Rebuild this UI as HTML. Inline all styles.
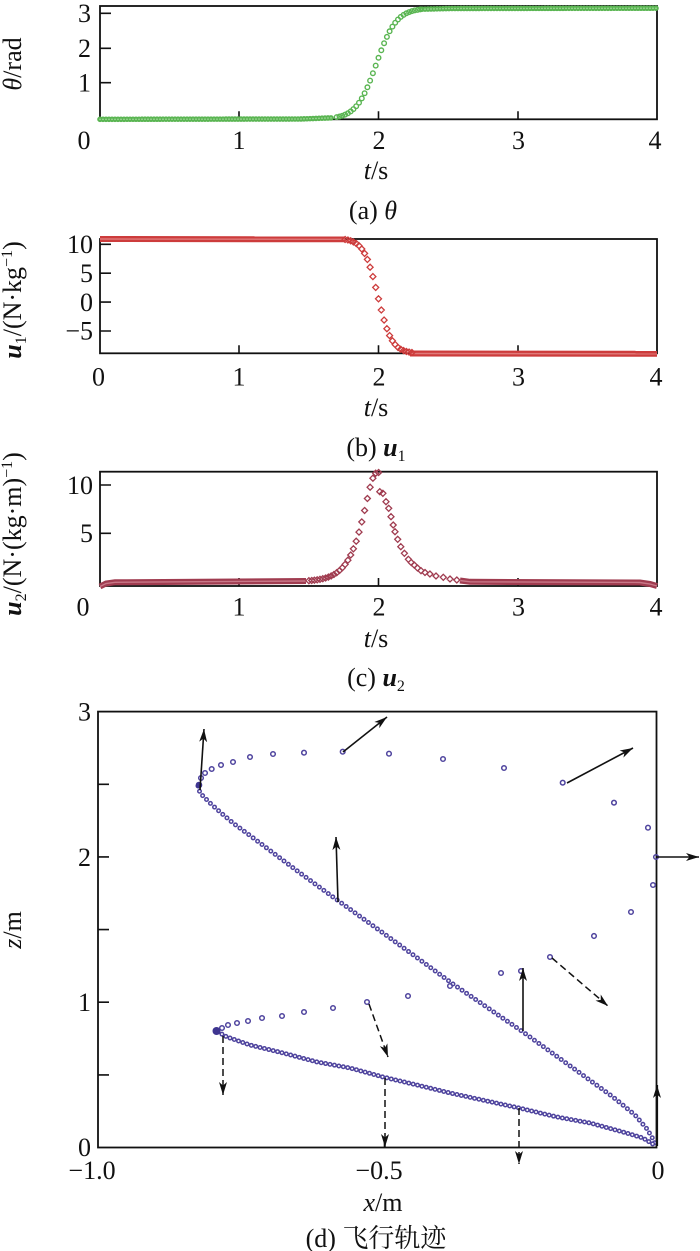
<!DOCTYPE html>
<html><head><meta charset="utf-8">
<style>
html,body{margin:0;padding:0;background:#fff}
svg{display:block}
text{font-family:"Liberation Serif","Noto Serif CJK SC",serif;font-size:26px;fill:#111}
</style></head>
<body>
<svg width="700" height="1251" viewBox="0 0 700 1251" xmlns="http://www.w3.org/2000/svg">
<defs>
<marker id="ah" markerUnits="userSpaceOnUse" markerWidth="14" markerHeight="10" refX="13" refY="5" orient="auto" viewBox="0 0 14 10"><path d="M0,1 L13,5 L0,9 L3.5,5z" fill="#111" stroke="none"/></marker>
</defs>
<rect width="700" height="1251" fill="#fff"/>

<!-- ===== Panel (a) ===== -->
<rect x="100" y="6" width="557" height="113.3" fill="none" stroke="#111" stroke-width="1.8"/>
<path d="M100,13.3h11M100,48.3h11M100,82.7h11M239,119.3v-8M378.5,119.3v-8M518,119.3v-8" stroke="#111" stroke-width="1.6"/>
<g fill="none" stroke-linecap="round">
<path d="M100,119.3 L300,119 L333,117.8" stroke="#5ab552" stroke-width="5.6" stroke-dasharray="0 3"/>
<path d="M100,119.3 L300,119 L333,117.8" stroke="#a9dba2" stroke-width="1.6" stroke-dasharray="0 3"/>
<path d="M422,9.2 L450,8.5 L657,8.2" stroke="#5ab552" stroke-width="5.6" stroke-dasharray="0 3"/>
<path d="M422,9.2 L450,8.5 L657,8.2" stroke="#a9dba2" stroke-width="1.6" stroke-dasharray="0 3"/>
</g>
<path fill="none" stroke="#5ab552" stroke-width="1.4" d="M334.4,117.1a2.3 2.3 0 1 0 4.6 0a2.3 2.3 0 1 0-4.6 0M337.2,116.5a2.3 2.3 0 1 0 4.6 0a2.3 2.3 0 1 0-4.6 0M340,115.7a2.3 2.3 0 1 0 4.6 0a2.3 2.3 0 1 0-4.6 0M342.8,114.6a2.3 2.3 0 1 0 4.6 0a2.3 2.3 0 1 0-4.6 0M345.6,113.2a2.3 2.3 0 1 0 4.6 0a2.3 2.3 0 1 0-4.6 0M348.4,111.4a2.3 2.3 0 1 0 4.6 0a2.3 2.3 0 1 0-4.6 0M351.1,109.1a2.3 2.3 0 1 0 4.6 0a2.3 2.3 0 1 0-4.6 0M353.9,106.2a2.3 2.3 0 1 0 4.6 0a2.3 2.3 0 1 0-4.6 0M356.7,102.7a2.3 2.3 0 1 0 4.6 0a2.3 2.3 0 1 0-4.6 0M359.5,98.4a2.3 2.3 0 1 0 4.6 0a2.3 2.3 0 1 0-4.6 0M362.3,93.2a2.3 2.3 0 1 0 4.6 0a2.3 2.3 0 1 0-4.6 0M365.1,87.3a2.3 2.3 0 1 0 4.6 0a2.3 2.3 0 1 0-4.6 0M367.8,80.6a2.3 2.3 0 1 0 4.6 0a2.3 2.3 0 1 0-4.6 0M370.6,73.2a2.3 2.3 0 1 0 4.6 0a2.3 2.3 0 1 0-4.6 0M373.4,65.6a2.3 2.3 0 1 0 4.6 0a2.3 2.3 0 1 0-4.6 0M376.2,57.8a2.3 2.3 0 1 0 4.6 0a2.3 2.3 0 1 0-4.6 0M379,50.3a2.3 2.3 0 1 0 4.6 0a2.3 2.3 0 1 0-4.6 0M381.8,43.2a2.3 2.3 0 1 0 4.6 0a2.3 2.3 0 1 0-4.6 0M384.6,36.9a2.3 2.3 0 1 0 4.6 0a2.3 2.3 0 1 0-4.6 0M387.3,31.3a2.3 2.3 0 1 0 4.6 0a2.3 2.3 0 1 0-4.6 0M390.1,26.6a2.3 2.3 0 1 0 4.6 0a2.3 2.3 0 1 0-4.6 0M392.9,22.7a2.3 2.3 0 1 0 4.6 0a2.3 2.3 0 1 0-4.6 0M395.7,19.5a2.3 2.3 0 1 0 4.6 0a2.3 2.3 0 1 0-4.6 0M398.5,16.9a2.3 2.3 0 1 0 4.6 0a2.3 2.3 0 1 0-4.6 0M401.3,14.9a2.3 2.3 0 1 0 4.6 0a2.3 2.3 0 1 0-4.6 0M404.1,13.3a2.3 2.3 0 1 0 4.6 0a2.3 2.3 0 1 0-4.6 0M406.8,12.1a2.3 2.3 0 1 0 4.6 0a2.3 2.3 0 1 0-4.6 0M409.6,11.1a2.3 2.3 0 1 0 4.6 0a2.3 2.3 0 1 0-4.6 0M412.4,10.4a2.3 2.3 0 1 0 4.6 0a2.3 2.3 0 1 0-4.6 0M415.2,9.9a2.3 2.3 0 1 0 4.6 0a2.3 2.3 0 1 0-4.6 0M418,9.4a2.3 2.3 0 1 0 4.6 0a2.3 2.3 0 1 0-4.6 0"/>
<text x="91" y="22" text-anchor="end">3</text>
<text x="91" y="57" text-anchor="end">2</text>
<text x="91" y="91.5" text-anchor="end">1</text>
<text x="84" y="149" text-anchor="middle">0</text>
<text x="239" y="149" text-anchor="middle">1</text>
<text x="379" y="149" text-anchor="middle">2</text>
<text x="518.5" y="149" text-anchor="middle">3</text>
<text x="655" y="149" text-anchor="middle">4</text>
<text transform="translate(21,64) rotate(-90)" text-anchor="middle"><tspan font-style="italic">θ</tspan>/rad</text>
<text x="376" y="179" text-anchor="middle"><tspan font-style="italic">t</tspan>/s</text>
<text x="373" y="219" text-anchor="middle">(a) <tspan font-style="italic">θ</tspan></text>

<!-- ===== Panel (b) ===== -->
<rect x="100" y="239" width="557" height="114.3" fill="none" stroke="#111" stroke-width="1.8"/>
<path d="M100,244.3h11M100,273.2h11M100,302.1h11M100,331h11M239,353.3v-8M378.5,353.3v-8M518,353.3v-8" stroke="#111" stroke-width="1.6"/>
<g fill="none">
<path d="M100,239 L345,239.3" stroke="#cd3c3c" stroke-width="6"/>
<path d="M100,239 L345,239.3" stroke="#e07a7a" stroke-width="1.4"/>
<path d="M410,353.5 L657,353.8" stroke="#cd3c3c" stroke-width="6"/>
<path d="M410,353.5 L657,353.8" stroke="#e07a7a" stroke-width="1.4"/>
</g>
<path fill="none" stroke="#cd3c3c" stroke-width="1.3" d="M345.1,236.5l3 3-3 3-3-3zM347.9,237l3 3-3 3-3-3zM350.7,237.8l3 3-3 3-3-3zM353.4,238.9l3 3-3 3-3-3zM356.2,240.4l3 3-3 3-3-3zM359,242.7l3 3-3 3-3-3zM361.8,246l3 3-3 3-3-3zM364.6,250.4l3 3-3 3-3-3zM367.4,256.4l3 3-3 3-3-3zM370.1,264.2l3 3-3 3-3-3zM372.9,273.6l3 3-3 3-3-3zM375.7,284.4l3 3-3 3-3-3zM378.5,295.8l3 3-3 3-3-3zM381.3,307l3 3-3 3-3-3zM384.1,317.1l3 3-3 3-3-3zM386.9,325.7l3 3-3 3-3-3zM389.6,332.6l3 3-3 3-3-3zM392.4,337.8l3 3-3 3-3-3zM395.2,341.6l3 3-3 3-3-3zM398,344.4l3 3-3 3-3-3zM400.8,346.3l3 3-3 3-3-3zM403.6,347.6l3 3-3 3-3-3zM406.4,348.5l3 3-3 3-3-3zM409.1,349.1l3 3-3 3-3-3zM411.9,349.5l3 3-3 3-3-3z"/>
<text x="93" y="253" text-anchor="end">10</text>
<text x="93" y="282" text-anchor="end">5</text>
<text x="93" y="311" text-anchor="end">0</text>
<text x="93" y="339.5" text-anchor="end">−5</text>
<text x="98.5" y="385.5" text-anchor="middle">0</text>
<text x="239" y="385.5" text-anchor="middle">1</text>
<text x="379" y="385.5" text-anchor="middle">2</text>
<text x="518.5" y="385.5" text-anchor="middle">3</text>
<text x="656" y="385.5" text-anchor="middle">4</text>
<text transform="translate(21,300) rotate(-90)" text-anchor="middle" font-size="26"><tspan font-weight="bold" font-style="italic">u</tspan><tspan font-size="16" dy="5">1</tspan><tspan dy="-5">/(N·kg</tspan><tspan font-size="16" dy="-9">−1</tspan><tspan dy="9">)</tspan></text>
<text x="376" y="416" text-anchor="middle"><tspan font-style="italic">t</tspan>/s</text>
<text x="376" y="456" text-anchor="middle">(b) <tspan font-weight="bold" font-style="italic">u</tspan><tspan font-size="16" dy="5">1</tspan></text>

<!-- ===== Panel (c) ===== -->
<rect x="100" y="471.7" width="557" height="114.3" fill="none" stroke="#111" stroke-width="1.8"/>
<path d="M100,485h11M100,533.3h11M239,586v-8M378.5,586v-8M518,586v-8" stroke="#111" stroke-width="1.6"/>
<g fill="none">
<path d="M100,586.5 L106,583.5 L115,582.3 L306,581" stroke="#a03c50" stroke-width="6"/>
<path d="M100,586.5 L106,583.5 L115,582.3 L306,581" stroke="#c87888" stroke-width="1.4"/>
<path d="M460,580.5 L470,581.8 L640,582.5 L650,584 L657,586" stroke="#a03c50" stroke-width="6"/>
<path d="M460,580.5 L470,581.8 L640,582.5 L650,584 L657,586" stroke="#c87888" stroke-width="1.4"/>
</g>
<path fill="none" stroke="#a03c50" stroke-width="1.3" d="M308.9,577.7l3 3-3 3-3-3zM311.7,577.5l3 3-3 3-3-3zM314.4,577.2l3 3-3 3-3-3zM317.2,576.8l3 3-3 3-3-3zM320,576.3l3 3-3 3-3-3zM322.8,575.7l3 3-3 3-3-3zM325.6,575l3 3-3 3-3-3zM328.4,574.1l3 3-3 3-3-3zM331.2,572.9l3 3-3 3-3-3zM333.9,571.5l3 3-3 3-3-3zM336.7,569.7l3 3-3 3-3-3zM339.5,567.5l3 3-3 3-3-3zM342.3,564.8l3 3-3 3-3-3zM345.1,561.4l3 3-3 3-3-3zM347.9,557.2l3 3-3 3-3-3zM350.7,552l3 3-3 3-3-3zM353.4,545.8l3 3-3 3-3-3zM356.2,538.2l3 3-3 3-3-3zM359,529.1l3 3-3 3-3-3zM361.8,518.9l3 3-3 3-3-3zM364.6,507.5l3 3-3 3-3-3zM367.4,495.5l3 3-3 3-3-3zM370.1,484.2l3 3-3 3-3-3zM372.9,475.2l3 3-3 3-3-3zM375.7,470.2l3 3-3 3-3-3zM378.6,469.5l3 3-3 3-3-3zM379.8,488.7l3 3-3 3-3-3zM382.9,490.3l3 3-3 3-3-3zM386,498.7l3 3-3 3-3-3zM388.7,505.3l3 3-3 3-3-3zM391,513.7l3 3-3 3-3-3zM393.2,522l3 3-3 3-3-3zM395,528.7l3 3-3 3-3-3zM397.7,536.3l3 3-3 3-3-3zM400.8,543.7l3 3-3 3-3-3zM404.4,550.3l3 3-3 3-3-3zM408.4,556.3l3 3-3 3-3-3zM411.2,559.5l3 3-3 3-3-3zM414.2,562l3 3-3 3-3-3zM417.5,565l3 3-3 3-3-3zM421,567.7l3 3-3 3-3-3zM425,569.5l3 3-3 3-3-3zM429.9,571l3 3-3 3-3-3zM436,573l3 3-3 3-3-3zM443.3,574.3l3 3-3 3-3-3zM450,576l3 3-3 3-3-3zM456.8,577l3 3-3 3-3-3z"/>
<text x="93" y="494" text-anchor="end">10</text>
<text x="93" y="542" text-anchor="end">5</text>
<text x="83" y="615.5" text-anchor="middle">0</text>
<text x="239" y="615.5" text-anchor="middle">1</text>
<text x="379" y="615.5" text-anchor="middle">2</text>
<text x="518.5" y="615.5" text-anchor="middle">3</text>
<text x="656" y="615.5" text-anchor="middle">4</text>
<text transform="translate(21,534) rotate(-90)" text-anchor="middle" font-size="25"><tspan font-weight="bold" font-style="italic">u</tspan><tspan font-size="16" dy="5">2</tspan><tspan dy="-5">/(N·(kg·m)</tspan><tspan font-size="16" dy="-9">−1</tspan><tspan dy="9">)</tspan></text>
<text x="376" y="647" text-anchor="middle"><tspan font-style="italic">t</tspan>/s</text>
<text x="376" y="686" text-anchor="middle">(c) <tspan font-weight="bold" font-style="italic">u</tspan><tspan font-size="16" dy="5">2</tspan></text>

<!-- ===== Panel (d) ===== -->
<rect x="98" y="711.6" width="558.5" height="435.9" fill="none" stroke="#111" stroke-width="1.8"/>
<path d="M98,1074.9h11M98,1002.2h11M98,929.6h11M98,856.9h11M98,784.3h11M384.5,1147.5v-8" stroke="#111" stroke-width="1.6"/>
<g fill="none" stroke-linecap="round">
<path d="M198,786 L200,793 L210,803 L220,812 L233,823 L260,843 L300,873 L333,897 L390,938 L453,984 L523,1032 L573,1068 L613,1097 L635,1115 L647,1129 L653,1139 L656,1146" stroke="#4f449e" stroke-width="5" stroke-dasharray="0 5.5"/>
<path d="M198,786 L200,793 L210,803 L220,812 L233,823 L260,843 L300,873 L333,897 L390,938 L453,984 L523,1032 L573,1068 L613,1097 L635,1115 L647,1129 L653,1139 L656,1146" stroke="#fff" stroke-width="2" stroke-dasharray="0 5.5"/>
<path d="M218,1032 L227,1037 L250,1045 L283,1053 L317,1062 L350,1068 L383,1077 L417,1085 L450,1093 L473,1098 L519,1108 L557,1117 L590,1123 L623,1132 L643,1138 L656,1146" stroke="#4f449e" stroke-width="5" stroke-dasharray="0 4.5"/>
<path d="M218,1032 L227,1037 L250,1045 L283,1053 L317,1062 L350,1068 L383,1077 L417,1085 L450,1093 L473,1098 L519,1108 L557,1117 L590,1123 L623,1132 L643,1138 L656,1146" stroke="#fff" stroke-width="2" stroke-dasharray="0 4.5"/>
</g>
<path fill="none" stroke="#4f449e" stroke-width="1.5" d="M198.7,778a2.3 2.3 0 1 0 4.6 0a2.3 2.3 0 1 0-4.6 0M202.7,773a2.3 2.3 0 1 0 4.6 0a2.3 2.3 0 1 0-4.6 0M209.4,769a2.3 2.3 0 1 0 4.6 0a2.3 2.3 0 1 0-4.6 0M218.7,765a2.3 2.3 0 1 0 4.6 0a2.3 2.3 0 1 0-4.6 0M230.7,762a2.3 2.3 0 1 0 4.6 0a2.3 2.3 0 1 0-4.6 0M247.7,757a2.3 2.3 0 1 0 4.6 0a2.3 2.3 0 1 0-4.6 0M270.7,754a2.3 2.3 0 1 0 4.6 0a2.3 2.3 0 1 0-4.6 0M301.7,752.7a2.3 2.3 0 1 0 4.6 0a2.3 2.3 0 1 0-4.6 0M340.4,751.7a2.3 2.3 0 1 0 4.6 0a2.3 2.3 0 1 0-4.6 0M386.7,753.7a2.3 2.3 0 1 0 4.6 0a2.3 2.3 0 1 0-4.6 0M440.7,759a2.3 2.3 0 1 0 4.6 0a2.3 2.3 0 1 0-4.6 0M501.7,768a2.3 2.3 0 1 0 4.6 0a2.3 2.3 0 1 0-4.6 0M560.4,782.7a2.3 2.3 0 1 0 4.6 0a2.3 2.3 0 1 0-4.6 0M611.7,802.7a2.3 2.3 0 1 0 4.6 0a2.3 2.3 0 1 0-4.6 0M645.7,827.7a2.3 2.3 0 1 0 4.6 0a2.3 2.3 0 1 0-4.6 0M653.7,857a2.3 2.3 0 1 0 4.6 0a2.3 2.3 0 1 0-4.6 0M650.7,885a2.3 2.3 0 1 0 4.6 0a2.3 2.3 0 1 0-4.6 0M628.7,912a2.3 2.3 0 1 0 4.6 0a2.3 2.3 0 1 0-4.6 0M591.7,936a2.3 2.3 0 1 0 4.6 0a2.3 2.3 0 1 0-4.6 0M547.7,957a2.3 2.3 0 1 0 4.6 0a2.3 2.3 0 1 0-4.6 0M518.7,971a2.3 2.3 0 1 0 4.6 0a2.3 2.3 0 1 0-4.6 0M498.7,973a2.3 2.3 0 1 0 4.6 0a2.3 2.3 0 1 0-4.6 0M447.7,986a2.3 2.3 0 1 0 4.6 0a2.3 2.3 0 1 0-4.6 0M405.7,996a2.3 2.3 0 1 0 4.6 0a2.3 2.3 0 1 0-4.6 0M364.7,1002a2.3 2.3 0 1 0 4.6 0a2.3 2.3 0 1 0-4.6 0M330.7,1008a2.3 2.3 0 1 0 4.6 0a2.3 2.3 0 1 0-4.6 0M301.7,1012a2.3 2.3 0 1 0 4.6 0a2.3 2.3 0 1 0-4.6 0M279.7,1016a2.3 2.3 0 1 0 4.6 0a2.3 2.3 0 1 0-4.6 0M259.7,1018a2.3 2.3 0 1 0 4.6 0a2.3 2.3 0 1 0-4.6 0M245.7,1021a2.3 2.3 0 1 0 4.6 0a2.3 2.3 0 1 0-4.6 0M234.7,1023a2.3 2.3 0 1 0 4.6 0a2.3 2.3 0 1 0-4.6 0M225.7,1025a2.3 2.3 0 1 0 4.6 0a2.3 2.3 0 1 0-4.6 0M219.7,1028a2.3 2.3 0 1 0 4.6 0a2.3 2.3 0 1 0-4.6 0"/>
<circle cx="199" cy="785" r="3.3" fill="#3e3590"/>
<circle cx="216.5" cy="1031" r="4" fill="#3e3590"/>

<!-- arrows -->
<g stroke="#111" stroke-width="1.6" fill="none" marker-end="url(#ah)">
<path d="M200,790 L204,729"/>
<path d="M343,752 L387,717"/>
<path d="M567,783 L633,748"/>
<path d="M656,857 L699,857"/>
<path d="M338,902 L336,837"/>
<path d="M523,1031 L523,968"/>
<path d="M657,1146 L657,1085" stroke-width="2.2"/>
</g>
<g stroke="#111" stroke-width="1.5" fill="none" stroke-dasharray="7 4" marker-end="url(#ah)">
<path d="M552,958 L608,1006"/>
<path d="M369,1004 L388,1057"/>
<path d="M223,1036 L223,1095"/>
<path d="M385,1078 L385,1147"/>
<path d="M519,1108 L519,1164"/>
</g>

<text x="91" y="720.5" text-anchor="end">3</text>
<text x="91" y="866" text-anchor="end">2</text>
<text x="91" y="1011" text-anchor="end">1</text>
<text x="91" y="1156" text-anchor="end">0</text>
<text x="92" y="1179" text-anchor="middle">−1.0</text>
<text x="379" y="1179" text-anchor="middle">−0.5</text>
<text x="658" y="1179" text-anchor="middle">0</text>
<text transform="translate(21,930) rotate(-90)" text-anchor="middle"><tspan font-style="italic">z</tspan>/m</text>
<text x="383" y="1211" text-anchor="middle"><tspan font-style="italic">x</tspan>/m</text>
<text x="376" y="1247" text-anchor="middle">(d) 飞行轨迹</text>
</svg>
</body></html>
